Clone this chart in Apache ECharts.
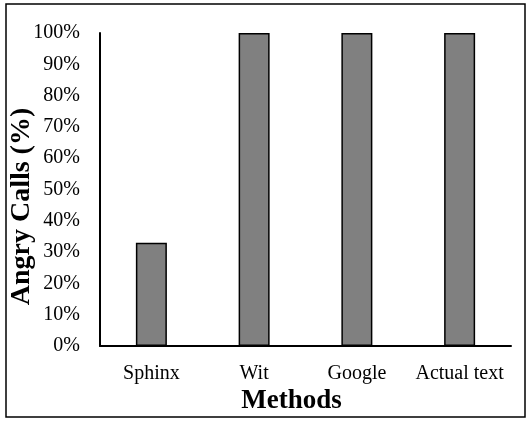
<!DOCTYPE html>
<html>
<head>
<meta charset="utf-8">
<script src="https://cdn.jsdelivr.net/npm/echarts@6/dist/echarts.min.js"></script>
<style>
  html, body { margin: 0; padding: 0; background: #fff; }
  #chart { width: 531px; height: 421px; }
</style>
</head>
<body>
<div id="chart"></div>
<script>
// data
const methods = ['Sphinx', 'Wit', 'Google', 'Actual text']
const angryCalls = [0.33, 1, 1, 1]
const yTicks = [0, 0.1, 0.2, 0.3, 0.4, 0.5, 0.6, 0.7, 0.8, 0.9, 1]

const serif = '"Liberation Serif", "Times New Roman", serif'
const chart = echarts.init(document.getElementById('chart'))

chart.setOption({
  animation: false,
  backgroundColor: '#fff',
  grid: { left: 100, right: 20, top: 33, bottom: 75, outerBoundsMode: 'none', containLabel: false },
  // outer frame around the whole chart
  graphic: [{
    type: 'rect',
    shape: { x: 6, y: 4, width: 519, height: 413 },
    style: { fill: 'none', stroke: '#000', lineWidth: 1.5 },
    silent: true
  }],
  xAxis: {
    type: 'category',
    data: methods,
    name: 'Methods',
    nameLocation: 'middle',
    nameGap: 42,
    nameMoveOverlap: false,
    nameTextStyle: { fontFamily: serif, fontWeight: 'bold', fontSize: 27, color: '#000', padding: [0, 28, 0, 0] },
    axisLine: { lineStyle: { color: '#000', width: 2 } },
    axisTick: { show: false },
    axisLabel: { fontFamily: serif, fontSize: 20, color: '#000', margin: 18, interval: 0, hideOverlap: false }
  },
  yAxis: {
    type: 'value',
    min: yTicks[0],
    max: yTicks[yTicks.length - 1],
    interval: 0.1,
    name: 'Angry Calls (%)',
    nameLocation: 'middle',
    nameGap: 64,
    nameMoveOverlap: false,
    nameTextStyle: { fontFamily: serif, fontWeight: 'bold', fontSize: 28, color: '#000', padding: [0, 34, 0, 0] },
    axisLine: { show: true, lineStyle: { color: '#000', width: 2 } },
    axisTick: { show: false },
    splitLine: { show: false },
    axisLabel: {
      fontFamily: serif, fontSize: 20, color: '#000', margin: 20,
      formatter: v => Math.round(v * 100) + '%'
    }
  },
  series: [{
    type: 'bar',
    data: angryCalls,
    barWidth: 31,
    itemStyle: { color: '#808080', borderColor: '#000', borderWidth: 1.5 }
  }]
})
</script>
</body>
</html>
